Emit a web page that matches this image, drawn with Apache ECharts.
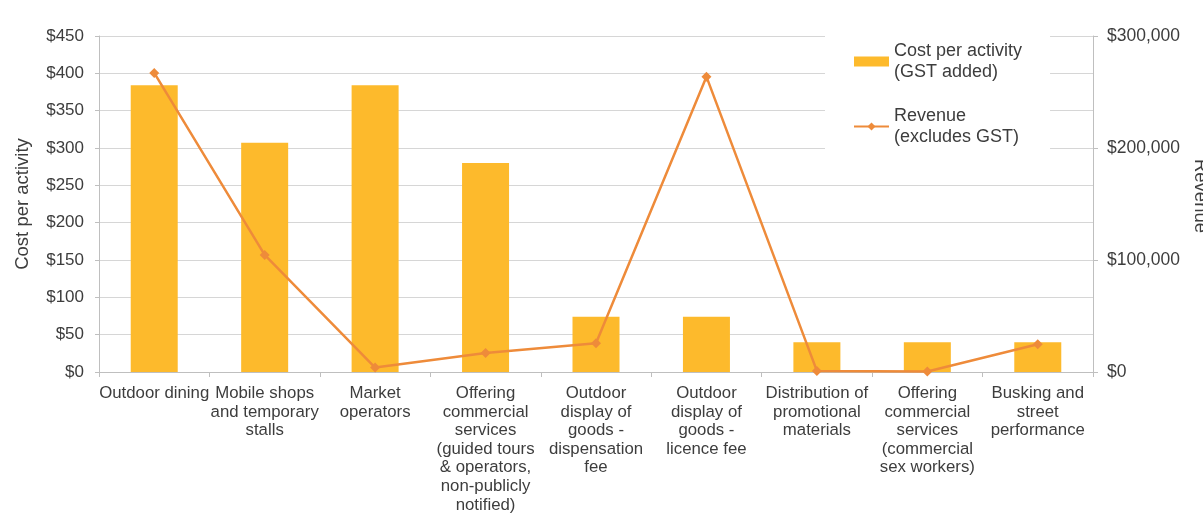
<!DOCTYPE html>
<html>
<head>
<meta charset="utf-8">
<script src="https://cdn.jsdelivr.net/npm/echarts@6/dist/echarts.min.js"></script>
<style>
  html, body { margin: 0; padding: 0; background: #fff; }
  #chart { width: 1203px; height: 519px; }
</style>
</head>
<body>
<div id="chart"></div>
<script>
// Activity categories (x axis)
const categories = [
  'Outdoor dining',
  'Mobile shops\nand temporary\nstalls',
  'Market\noperators',
  'Offering\ncommercial\nservices\n(guided tours\n& operators,\nnon-publicly\nnotified)',
  'Outdoor\ndisplay of\ngoods -\ndispensation\nfee',
  'Outdoor\ndisplay of\ngoods -\nlicence fee',
  'Distribution of\npromotional\nmaterials',
  'Offering\ncommercial\nservices\n(commercial\nsex workers)',
  'Busking and\nstreet\nperformance'
];

// Cost per activity, GST added ($)
const costPerActivity = [384, 307, 384, 280, 74, 74, 40, 40, 40];

// Revenue, excludes GST ($)
const revenue = [267000, 104500, 4000, 17000, 25600, 263700, 1000, 500, 24700];

const seriesNames = ['Cost per activity\n(GST added)', 'Revenue\n(excludes GST)'];

const FONT = 'Liberation Sans, Arial, sans-serif';
const TEXT = '#3d3d3d';
const AXIS = '#bfbfbf';

const chart = echarts.init(document.getElementById('chart'), null, { renderer: 'canvas' });

chart.setOption({
  animation: false,
  textStyle: { fontFamily: FONT, color: TEXT },
  grid: {
    left: 99, right: 110, top: 36, bottom: 147,
    containLabel: false,
    outerBoundsMode: 'none'
  },
  legend: {
    orient: 'vertical',
    left: 825,
    top: 22,
    padding: [8, 28, 8, 28],
    backgroundColor: '#ffffff',
    itemWidth: 35,
    itemHeight: 10,
    itemGap: 2,
    data: [
      { name: seriesNames[0], icon: 'rect' },
      { name: seriesNames[1] }
    ],
    textStyle: {
      fontFamily: FONT, fontSize: 18, color: TEXT, lineHeight: 21,
      padding: [21, 0, 0, 0]
    }
  },
  xAxis: {
    type: 'category',
    data: categories,
    axisLine: { lineStyle: { color: AXIS, width: 1 } },
    axisTick: { show: true, length: 5, lineStyle: { color: AXIS } },
    axisLabel: {
      interval: 0, margin: 12, fontFamily: FONT, fontSize: 16.8,
      lineHeight: 18.6, color: TEXT, align: 'center'
    }
  },
  yAxis: [
    {
      type: 'value',
      min: 0, max: 450, interval: 50,
      name: 'Cost per activity',
      nameLocation: 'middle',
      nameGap: 67,
      nameRotate: 90,
      nameTextStyle: { fontFamily: FONT, fontSize: 18.5, color: TEXT },
      axisLine: { show: true, lineStyle: { color: AXIS } },
      axisTick: { show: true, length: 4, lineStyle: { color: AXIS } },
      splitLine: { show: true, lineStyle: { color: '#d6d6d6', width: 1 } },
      axisLabel: {
        fontFamily: FONT, fontSize: 17, color: TEXT, margin: 15,
        formatter: v => '$' + v
      }
    },
    {
      type: 'value',
      min: 0, max: 300000, interval: 100000,
      name: 'Revenue',
      nameLocation: 'middle',
      nameGap: 98,
      nameRotate: -90,
      nameTextStyle: { fontFamily: FONT, fontSize: 18.5, color: TEXT, padding: [0, 16, 0, 0] },
      position: 'right',
      axisLine: { show: true, lineStyle: { color: AXIS } },
      axisTick: { show: true, length: 5, lineStyle: { color: AXIS } },
      splitLine: { show: false },
      axisLabel: {
        fontFamily: FONT, fontSize: 17.5, color: TEXT, margin: 14,
        formatter: v => '$' + v.toLocaleString('en-US')
      }
    }
  ],
  series: [
    {
      name: seriesNames[0],
      type: 'bar',
      yAxisIndex: 0,
      data: costPerActivity,
      barWidth: 47,
      itemStyle: { color: '#FDBA2C' },
      z: 2
    },
    {
      name: seriesNames[1],
      type: 'line',
      yAxisIndex: 1,
      data: revenue,
      symbol: 'diamond',
      symbolSize: 10,
      lineStyle: { color: '#EE8B3A', width: 2.5 },
      itemStyle: { color: '#EE8B3A' },
      z: 3
    }
  ]
});
</script>
</body>
</html>
